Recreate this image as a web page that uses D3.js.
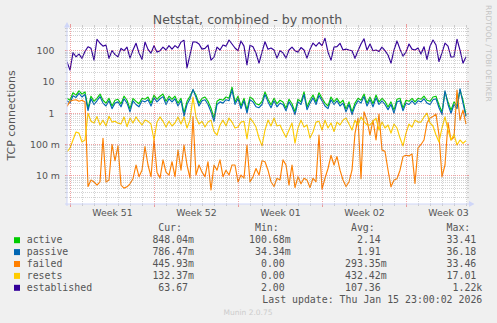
<!DOCTYPE html>
<html><head><meta charset="utf-8">
<script src="https://cdn.jsdelivr.net/npm/d3@7"></script>
<style>
html,body{margin:0;padding:0;background:#F0F0F0;}
svg{display:block;}
text{font-family:"DejaVu Sans",sans-serif;}
.mono{font-family:"DejaVu Sans Mono",monospace;}
</style></head><body>
<svg id="c" width="497" height="323"></svg>
<script>
// ---------- data ----------
const seriesNames = ["active","passive","failed","resets","established"];
const seriesColors = ["#00CC00","#0066B3","#FF8000","#FFCC00","#330099"];
// samples every 6 hours starting 2025-12-13 17:00 UTC
const active = [3.0,2.6,4.5,3.8,5.2,4.1,4.8,1.45,3.5,2.4,
3.0,4.1,2.6,2.1,3.0,1.7,2.6,2.8,1.97,3.5,
2.6,1.36,3.0,2.4,2.0,3.0,2.8,3.3,2.1,3.8,
2.8,3.5,4.1,2.4,3.5,2.8,3.5,2.1,3.0,1.0,
2.4,3.5,5.5,3.8,2.1,3.0,3.3,2.4,1.45,0.7,
2.4,2.8,2.6,3.3,3.0,6.8,2.3,3.5,1.7,3.0,
1.25,3.3,2.8,2.0,1.85,2.4,4.8,2.8,1.85,3.0,
2.0,2.6,2.3,1.45,2.8,2.0,1.1,2.8,2.3,4.8,
1.58,2.6,3.8,2.3,4.5,3.0,2.1,1.7,3.3,2.3,
3.0,2.1,2.6,1.36,2.3,1.1,2.1,3.0,2.6,4.1,
2.1,3.3,2.0,3.8,2.3,3.0,2.4,1.58,2.3,1.25,
2.8,3.0,1.45,2.6,2.4,3.0,2.3,3.0,2.8,3.5,
2.6,2.4,3.3,3.5,1.85,1.1,4.8,2.3,1.25,2.3,
1.7,5.5,2.6,0.848];
const passive = [2.5,2.1,3.6,3.2,4.3,3.3,4.0,1.2,2.9,1.9,
2.5,3.4,2.1,1.7,2.5,1.4,2.1,2.3,1.6,2.9,
2.1,1.1,2.5,1.9,1.6,2.5,2.3,2.7,1.7,3.1,
2.3,2.9,3.4,1.9,2.9,2.3,2.9,1.7,2.5,0.8,
1.9,2.9,5.8,3.2,1.7,2.5,2.7,1.9,1.1,0.55,
1.9,2.3,2.1,2.7,2.5,5.6,1.9,2.9,1.4,2.5,
1.0,2.7,2.3,1.6,1.5,1.9,4.0,2.3,1.5,2.5,
1.6,2.1,1.9,1.2,2.3,1.6,0.9,2.3,1.9,4.0,
1.3,2.1,3.1,1.9,3.7,2.5,1.7,1.4,2.7,1.9,
2.5,1.7,2.1,1.1,1.9,0.9,1.7,2.5,2.1,3.4,
1.7,2.7,1.6,3.1,1.9,2.5,1.9,1.3,1.9,1.0,
2.3,2.5,1.2,2.1,1.9,2.5,1.9,2.5,2.3,2.9,
2.1,1.9,2.7,2.9,1.5,0.9,5.2,1.9,1.0,1.9,
1.4,6.0,2.1,0.786];
const failed = [1.65,2.4,2.6,2.7,2.4,2.6,2.3,0.0045,0.0073,0.0063,
0.005,0.0064,0.157,0.0063,0.0073,0.1,0.03,0.09,0.005,0.004,
0.0044,0.0055,0.008,0.022,0.0093,0.015,0.085,0.022,0.0093,0.139,
0.013,0.0083,0.032,0.013,0.0105,0.028,0.0093,0.066,0.015,0.096,
0.022,0.0083,0.78,0.0105,0.022,0.013,0.0093,0.028,0.0035,0.022,
0.015,0.032,0.0093,0.015,0.0105,0.022,0.022,0.0063,0.0105,0.0083,
0.096,0.0063,0.0093,0.017,0.0105,0.03,0.028,0.015,0.0064,0.0045,
0.0083,0.0073,0.032,0.022,0.005,0.022,0.0042,0.0093,0.0055,0.0083,
0.0073,0.0042,0.0083,0.0064,0.2,0.0037,0.0083,0.017,0.045,0.022,
0.041,0.015,0.0073,0.0045,0.0063,0.015,0.227,0.7,0.008,1.1,
0.6,0.2,0.6,0.139,0.94,0.066,0.06,0.0152,0.0044,0.0073,
0.008,0.015,0.041,0.045,0.043,0.05,0.0057,0.077,0.1,0.139,
0.48,0.7,0.78,0.94,0.2,0.0093,0.022,0.5,0.139,0.17,
5.5,0.6,1.25,0.446];
const resets = [0.058,0.077,0.139,0.25,0.23,0.12,0.139,1.0,0.55,0.485,
0.78,0.42,0.6,0.39,0.8,0.52,0.55,0.48,0.45,0.76,
0.37,0.7,0.485,0.76,0.55,0.42,0.6,0.55,0.45,0.139,
0.52,0.76,0.55,0.36,0.55,0.39,0.485,0.76,0.45,0.76,
0.336,0.6,3.3,0.76,0.45,0.55,0.36,0.52,0.6,0.26,
0.2,0.42,0.6,0.39,0.7,0.52,0.336,0.36,0.52,0.55,
0.15,0.7,0.53,0.36,0.16,0.09,0.29,0.6,0.39,0.7,
0.39,0.42,0.26,0.17,0.29,0.485,0.11,0.336,0.6,0.36,
0.42,0.16,0.25,0.52,0.55,0.29,0.6,0.336,0.485,0.26,
0.52,0.42,0.6,0.7,0.45,0.29,0.6,0.42,0.76,0.55,
0.42,0.42,0.55,0.7,0.29,0.52,0.336,0.42,0.23,0.45,
0.336,0.16,0.09,0.23,0.45,0.36,0.6,0.52,0.52,0.76,
1.0,0.485,0.39,0.2,0.12,0.336,0.76,0.29,0.139,0.21,
0.096,0.139,0.109,0.132];
const established = [44,24,87,64,78,57,95,134,119,50,
232,173,140,152,57,100,75,64,119,100,
130,58,105,173,85,53,190,110,83,145,
90,100,130,105,145,112,145,122,190,215,
28,73,194,190,164,112,119,152,50,62,
130,105,152,140,220,164,122,100,205,140,
35,150,134,83,40,90,194,112,122,105,
58,100,85,58,105,130,100,90,126,105,
58,112,175,140,183,145,250,90,50,130,
135,173,105,112,105,100,57,100,164,240,
105,164,100,105,95,130,100,73,40,105,
205,112,67,90,164,112,105,122,78,134,
53,140,220,152,45,85,175,140,62,64,
232,105,40,63.67];

const curValues = ["848.04m","786.47m","445.93m","132.37m","63.67"];
const minValues = ["100.68m","34.34m","0.00","0.00","2.00"];
const avgValues = ["2.14","1.91","293.35m","432.42m","107.36"];
const maxValues = ["33.41","36.18","33.46","17.01","1.22k"];
const statHeaders = ["Cur:","Min:","Avg:","Max:"];

const yTickValues = [100, 10, 1, 0.1, 0.01];
const yTickLabels = ["100","10","1","100 m","10 m"];
const weekLabels = ["Week 51","Week 52","Week 01","Week 02","Week 03"];

const titleText = "Netstat, combined - by month";
const yAxisTitle = "TCP connections";
const lastUpdate = "Last update: Thu Jan 15 23:00:02 2026";
const footer = "Munin 2.0.75";
const watermark = "RRDTOOL / TOBI OETIKER";

// ---------- layout ----------
const W = 497, H = 323;
const X0 = 67, X1 = 467, Y0 = 204, Y1 = 27;
const tEnd = Date.UTC(2026, 0, 16, 1, 0, 0);
const tStart = tEnd - 400 * 7200 * 1000;
const firstSample = tStart;
const stepMs = 6 * 3600 * 1000;
const FONT = "#555555";
const GRID = "rgba(140,140,140,0.38)";
const MGRID = "rgba(225,50,50,0.45)";
const AXIS = "#CFD6F8";

const x = d3.scaleUtc().domain([new Date(tStart), new Date(tEnd)]).range([X0, X1]);
const y = d3.scaleLog().domain([0.001243, 573.3]).range([Y0, Y1]);
const times = active.map((_, i) => new Date(firstSample + i * stepMs));

const svg = d3.select("#c");
svg.append("rect").attr("width", W).attr("height", H).attr("fill", "#F0F0F0");
svg.append("rect").attr("x", X0).attr("y", Y1).attr("width", X1 - X0).attr("height", Y0 - Y1).attr("fill", "#FFFFFF");
svg.append("defs").append("clipPath").attr("id", "clip")
  .append("rect").attr("x", X0).attr("y", Y1).attr("width", X1 - X0).attr("height", Y0 - Y1);

// data lines
const series = [active, passive, failed, resets, established];
const line = d3.line().x((d, i) => x(times[i])).y(d => y(d));
const lg = svg.append("g").attr("clip-path", "url(#clip)");
series.forEach((s, k) => {
  lg.append("path").attr("d", line(s)).attr("fill", "none")
    .attr("stroke", seriesColors[k]).attr("stroke-width", 1.15)
    .attr("stroke-linejoin", "round");
});

// grid
const dom = y.domain();
const hMinor = [], hMajor = [];
for (let e = -3; e <= 2; e++) for (let m = 1; m <= 9; m++) {
  const v = m * Math.pow(10, e);
  if (v >= dom[0] && v <= dom[1]) (m === 1 ? hMajor : hMinor).push(v);
}
const days = d3.utcDay.range(new Date(tStart), new Date(tEnd)).filter(d => d.getUTCDay() !== 0);
const weeks = d3.utcSunday.range(new Date(tStart), new Date(tEnd));
const gg = svg.append("g");
const px = v => Math.floor(v) + 0.5;
function hline(v, col, tick) {
  const yy = px(y(v));
  gg.append("line").attr("x1", X0).attr("x2", X1).attr("y1", yy).attr("y2", yy)
    .attr("stroke", col).attr("stroke-dasharray", "1,1");
  gg.append("line").attr("x1", X0 - tick).attr("x2", X0).attr("y1", yy).attr("y2", yy).attr("stroke", col);
  gg.append("line").attr("x1", X1).attr("x2", X1 + tick).attr("y1", yy).attr("y2", yy).attr("stroke", col);
}
function vline(t, col, tick) {
  const xx = px(x(t));
  gg.append("line").attr("x1", xx).attr("x2", xx).attr("y1", Y1).attr("y2", Y0)
    .attr("stroke", col).attr("stroke-dasharray", "1,1");
  gg.append("line").attr("x1", xx).attr("x2", xx).attr("y1", Y0).attr("y2", Y0 + tick).attr("stroke", col);
  gg.append("line").attr("x1", xx).attr("x2", xx).attr("y1", Y1 - tick).attr("y2", Y1).attr("stroke", col);
}
hMinor.forEach(v => hline(v, GRID, 2));
days.forEach(d => vline(d, GRID, 2));
hMajor.forEach(v => hline(v, MGRID, 2));
weeks.forEach(d => vline(d, MGRID, 3));

// axes
svg.append("line").attr("x1", X0).attr("x2", X0).attr("y1", Y1).attr("y2", Y0 + 2).attr("stroke", AXIS);
svg.append("line").attr("x1", X0 - 2).attr("x2", X1 + 2).attr("y1", Y0).attr("y2", Y0).attr("stroke", AXIS);
svg.append("path").attr("d", `M${X0 - 3},${Y1 + 0.5}L${X0 + 3},${Y1 + 0.5}L${X0},${Y1 - 5}Z`).attr("fill", AXIS);
svg.append("path").attr("d", `M${X1 + 2},${Y0 - 3}L${X1 + 2},${Y0 + 3}L${X1 + 7.5},${Y0}Z`).attr("fill", AXIS);

// y tick labels
const tickFont = 9.4;
yTickValues.forEach((v, i) => {
  const lab = yTickLabels[i];
  const hasUnit = / [a-zA-Z]$/.test(lab);
  svg.append("text").attr("x", hasUnit ? 60 : 60 - tickFont * 0.6).attr("y", y(v) + 3.4)
    .attr("text-anchor", "end").attr("font-size", tickFont).attr("fill", FONT).text(lab);
});
// x labels
weeks.forEach((d, i) => {
  if (i >= weekLabels.length) return;
  const c = new Date(d.getTime() + 3.5 * 86400000);
  svg.append("text").attr("x", x(c)).attr("y", 216).attr("text-anchor", "middle")
    .attr("font-size", tickFont).attr("fill", FONT).text(weekLabels[i]);
});

// titles
svg.append("text").attr("x", 247.5).attr("y", 24).attr("text-anchor", "middle")
  .attr("font-size", 12.6).attr("fill", FONT).text(titleText);
svg.append("text").attr("transform", `translate(15,${(Y0 + Y1) / 2}) rotate(-90)`)
  .attr("text-anchor", "middle").attr("font-size", 11).attr("fill", FONT).text(yAxisTitle);
svg.append("text").attr("transform", "translate(485.5,5) rotate(90)")
  .attr("font-size", 7.5).attr("fill", "#C4C4C4").text(watermark);

// legend
const lf = 9.9, cw = lf * 0.602;
const rowY0 = 243.3, rowStep = 11.9;
const colEdges = [194, 290.7, 386.7, 482.3];
const cols = [curValues, minValues, avgValues, maxValues];
statHeaders.forEach((h, j) => {
  svg.append("text").attr("class", "mono").attr("x", colEdges[j] - 6 * cw).attr("y", rowY0 - rowStep)
    .attr("font-size", lf).attr("fill", FONT).text(h);
});
seriesNames.forEach((n, k) => {
  const by = rowY0 + k * rowStep;
  svg.append("rect").attr("x", 14).attr("y", by - 6.1).attr("width", 6).attr("height", 6).attr("fill", seriesColors[k]);
  svg.append("text").attr("class", "mono").attr("x", 26.7).attr("y", by)
    .attr("font-size", lf).attr("fill", FONT).text(n);
  cols.forEach((arr, j) => {
    const s = arr[k];
    const unit = /[a-zA-Z]$/.test(s);
    svg.append("text").attr("class", "mono").attr("x", unit ? colEdges[j] : colEdges[j] - cw).attr("y", by)
      .attr("text-anchor", "end").attr("font-size", lf).attr("fill", FONT).text(s);
  });
});
svg.append("text").attr("class", "mono").attr("x", 482.3).attr("y", rowY0 + 5 * rowStep)
  .attr("text-anchor", "end").attr("font-size", lf).attr("fill", FONT).text(lastUpdate);
svg.append("text").attr("x", 248).attr("y", 315).attr("text-anchor", "middle")
  .attr("font-size", 7.5).attr("fill", "#CCCCCC").text(footer);
</script>
</body></html>
